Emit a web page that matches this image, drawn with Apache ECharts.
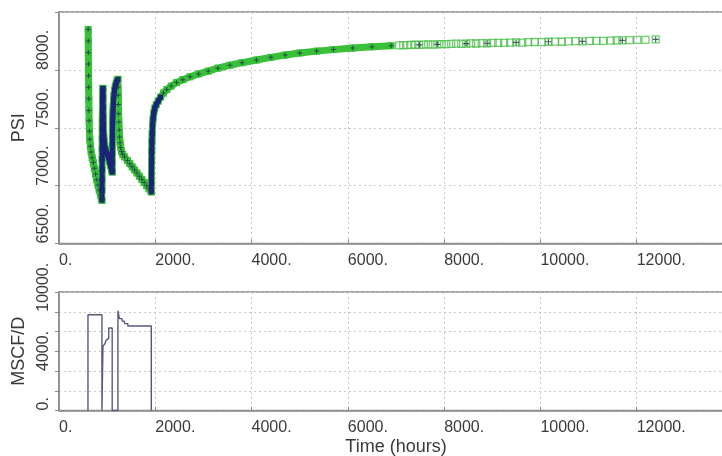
<!DOCTYPE html>
<html><head><meta charset="utf-8">
<script src="https://cdn.jsdelivr.net/npm/echarts@6/dist/echarts.min.js"></script>
<style>html,body{margin:0;padding:0;background:#fff}#c{width:722px;height:456px}</style>
</head><body><div id="c"></div><script>
// ---- Pressure history (hours, psi) ----
const drawdown1Time = [606,608,610,612,614,616,619,622,626,632,640,652,668,690,712,735,760,785,810,835,860,880,892];
const drawdown1Psi  = [8350,8250,8150,8050,7950,7850,7750,7650,7560,7470,7400,7340,7290,7240,7200,7150,7100,7050,7005,6960,6920,6890,6874];
const buildup1Time  = [892,893,894,895,896,897,898,899,900,902,904,906,909,912];
const buildup1Psi   = [6874,6960,7050,7140,7230,7320,7410,7490,7560,7630,7690,7740,7790,7840];
const drawdown2Time = [912,914,916,919,922,926,931,938,948,960,975,990,1010,1030,1050,1070,1090,1105];
const drawdown2Psi  = [7840,7760,7680,7600,7530,7470,7420,7380,7345,7320,7300,7285,7265,7240,7205,7170,7140,7118];
const buildup2Time  = [1105,1106,1107,1108,1110,1112,1115,1118,1122,1127,1134,1143,1155,1170,1188,1205,1224];
const buildup2Psi   = [7118,7200,7280,7350,7420,7480,7540,7590,7640,7690,7740,7785,7825,7860,7885,7905,7918];
const drawdown3Time = [1224,1227,1230,1234,1238,1243,1250,1258,1268,1282,1300,1325,1363,1420,1470,1520,1570,1620,1670,1720,1770,1820,1870,1917];
const drawdown3Psi  = [7918,7850,7780,7700,7620,7550,7480,7420,7370,7330,7295,7270,7248,7217,7190,7163,7136,7109,7081,7054,7027,7000,6972,6946];
const buildup3Time  = [1917,1919,1921,1923,1926,1930,1936,1944,1955,1970,1990,2020,2060,2110,2170,2240,2330,2440,2570,2720,2900,3100,3300,3550,3800,4100,4400,4700,5000,5350,5700,6100,6500,6900];
const buildup3Psi   = [6946,7030,7120,7210,7300,7380,7450,7520,7580,7630,7670,7700,7730,7765,7800,7830,7860,7890,7915,7940,7965,7990,8015,8040,8062,8085,8108,8128,8146,8162,8175,8188,8199,8209];
const lateTime = [7068,7151,7234,7317,7400,7483,7577,7670,7763,7857,7950,8044,8147,8251,8355,8458,8562,8666,8780,8894,9008,9122,9247,9371,9496,9620,9745,9880,10029,10166,10305,10444,10581,10734,10871,11025,11162,11301,11461,11585,11701,11851,12012,12183,12394];
const latePsi  = [8212,8214,8213,8216,8217,8216,8219,8220,8219,8221,8223,8222,8224,8226,8225,8227,8229,8228,8231,8230,8233,8234,8233,8236,8237,8236,8239,8241,8240,8243,8244,8243,8246,8248,8247,8250,8251,8250,8253,8255,8254,8257,8259,8260,8263];
const lateCrossIndex = [5,9,15,19,24,29,34,40,44];
// ---- Rate history (hours, MSCF/D) ----
const rateTime  = [602,602,892,913,950,978,1012,1032,1105,1224,1255,1310,1360,1430,1917];
const rateValue = [0,9700,0,6500,6750,7100,7300,8350,0,10100,9300,9050,8800,8550,0];
// ---- Axis ticks ----
const timeTicks = {min:0, max:14000, step:2000};
const psiTicks = {min:6500, max:8500, step:500};
const rateTicks = {min:0, max:12000, step:2000};
const rateLabelsShown = [0,4000,10000];

const pts = (ts, ps) => ts.map((t,i)=>[t, ps[i]]);
const GREEN = '#38c038', NAVY = '#1b2479', AXIS = '#8a8a8a', TXT = '#3a3a3a';
const FONT = 'Liberation Sans';
const plusPath = 'path://M4,0h2v4h4v2h-4v4h-2v-4h-4v-2h4z';

const greenBand = [].concat(pts(drawdown1Time,drawdown1Psi), pts(buildup1Time,buildup1Psi), pts(drawdown2Time,drawdown2Psi),
  pts(buildup2Time,buildup2Psi), pts(drawdown3Time,drawdown3Psi), pts(buildup3Time,buildup3Psi));
const navyBand = [].concat(pts(buildup1Time,buildup1Psi), pts(drawdown2Time,drawdown2Psi), pts(buildup2Time,buildup2Psi),
  [[1917,null]], pts(buildup3Time,buildup3Psi).slice(0,14));
const darkPlus = [].concat(pts(drawdown1Time,drawdown1Psi), pts(drawdown3Time,drawdown3Psi), pts(buildup3Time,buildup3Psi).slice(14));
const late = pts(lateTime, latePsi);
const lateCross = lateCrossIndex.map(i => late[i]);

const lbl = {color:TXT, fontSize:16, fontFamily:FONT};
const split = {show:true, lineStyle:{color:'#c8c8c8', type:[2,3], width:1}};
function xAx(g, extra){
  return Object.assign({gridIndex:g, type:'value', min:timeTicks.min, max:timeTicks.max, interval:timeTicks.step,
    axisLine:{show:true, onZero:false, lineStyle:{color:AXIS, width:1.5}},
    axisTick:{show:true, inside:true, length:4, lineStyle:{color:AXIS}},
    axisLabel:Object.assign({align:'left', margin:9, formatter:v => v===timeTicks.max ? '' : v+'.'}, lbl),
    splitLine:split}, extra||{});
}
function yAx(g, t, name, fmt){
  return {gridIndex:g, type:'value', min:t.min, max:t.max, interval:t.step,
    name:name, nameLocation:'middle', nameRotate:90, nameGap:25,
    nameTextStyle:{color:TXT, fontSize:18, fontFamily:FONT},
    axisLine:{show:true, lineStyle:{color:AXIS, width:1.5}},
    axisTick:{show:true, inside:false, length:4, lineStyle:{color:AXIS}},
    axisLabel:Object.assign({rotate:90, align:'left', verticalAlign:'middle', margin:15, formatter:fmt}, lbl),
    splitLine:split};
}

const chart = echarts.init(document.getElementById('c'), null, {renderer:'canvas'});
chart.setOption({
  animation:false,
  backgroundColor:'#fff',
  grid:[
    {left:59, top:12, width:674, height:231.5, show:true, borderColor:AXIS, borderWidth:1.5, outerBoundsMode:'none'},
    {left:59, top:292, width:674, height:118.5, show:true, borderColor:AXIS, borderWidth:1.5, outerBoundsMode:'none'}
  ],
  xAxis:[ xAx(0), xAx(1, {name:'Time (hours)', nameLocation:'middle', nameGap:28, nameTextStyle:{color:TXT, fontSize:18, fontFamily:FONT}}) ],
  yAxis:[
    yAx(0, psiTicks, 'PSI', v => v===psiTicks.max ? '' : v+'.'),
    yAx(1, rateTicks, 'MSCF/D', v => rateLabelsShown.indexOf(v)>=0 ? v+'.' : '')
  ],
  series:[
    {type:'line', xAxisIndex:0, yAxisIndex:0, data:greenBand, symbol:'rect', symbolSize:7, showSymbol:true,
      itemStyle:{color:GREEN}, lineStyle:{color:GREEN, width:7}, z:2},
    {type:'line', xAxisIndex:0, yAxisIndex:0, data:navyBand, symbol:'rect', symbolSize:5, showSymbol:true, connectNulls:false,
      itemStyle:{color:NAVY}, lineStyle:{color:NAVY, width:5}, z:3},
    {type:'scatter', xAxisIndex:0, yAxisIndex:0, data:darkPlus, symbol:plusPath, symbolSize:5,
      itemStyle:{color:'#1f3a4a', opacity:0.85}, z:4},
    {type:'scatter', xAxisIndex:0, yAxisIndex:0, data:late, symbol:'rect', symbolSize:7,
      itemStyle:{color:'rgba(255,255,255,0)', borderColor:'#4cbf4c', borderWidth:1.3}, z:4},
    {type:'scatter', xAxisIndex:0, yAxisIndex:0, data:lateCross, symbol:plusPath, symbolSize:6,
      itemStyle:{color:'#1f3a3a'}, z:5},
    {type:'line', xAxisIndex:1, yAxisIndex:1, data:pts(rateTime,rateValue), step:'end', showSymbol:false,
      lineStyle:{color:'#555a7c', width:1.4}, z:3}
  ]
});
</script></body></html>
